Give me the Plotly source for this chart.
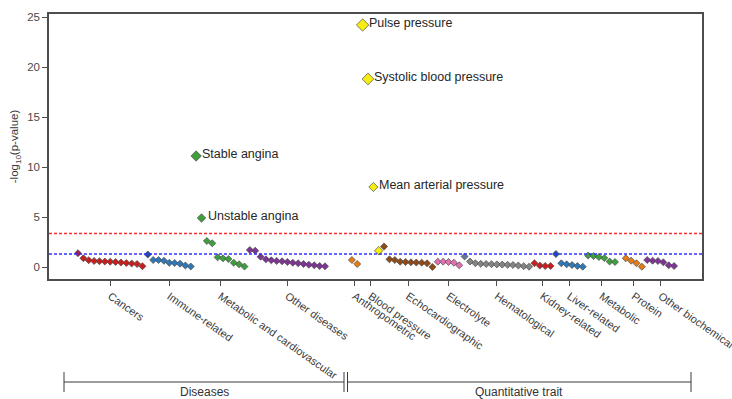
import plotly.graph_objects as go

# ---------------- data ----------------
groups = ["Cancers", "Immune-related", "Metabolic and cardiovascular", "Other diseases",
          "Anthropometric", "Blood pressure", "Echocardiographic", "Electrolyte",
          "Hematological", "Kidney-related", "Liver-related", "Metabolic", "Protein",
          "Other biochemical"]

cancers = [1.38, 0.88, 0.68, 0.6, 0.58, 0.55, 0.53, 0.5, 0.45, 0.4, 0.35, 0.3, 0.08]
immune = [1.25, 0.7, 0.7, 0.62, 0.42, 0.4, 0.33, 0.15, 0.05]
metab_cv = [11.1, 4.9, 2.6, 2.37, 0.97, 0.87, 0.8, 0.43, 0.27, 0.05]
other_dis = [1.7, 1.63, 1.03, 0.77, 0.67, 0.6, 0.57, 0.5, 0.43, 0.37, 0.3, 0.23, 0.17, 0.1, 0.07]
anthro = [0.7, 0.3]
blood_pressure = [24.2, 18.8, 8.0, 1.63]
echo = [2.05, 0.77, 0.7, 0.53, 0.5, 0.47, 0.45, 0.43, 0.37, 0.0]
electrolyte = [0.53, 0.53, 0.5, 0.43, 0.17]
hema = [1.05, 0.55, 0.38, 0.32, 0.3, 0.28, 0.26, 0.24, 0.22, 0.2, 0.15, 0.08, 0.03]
kidney = [0.38, 0.14, 0.1, 0.1]
liver = [1.3, 0.37, 0.27, 0.2, 0.1, 0.03]
metabolic = [1.15, 1.1, 1.0, 0.9, 0.55, 0.5]
protein = [0.87, 0.63, 0.37, 0.03]
other_bio = [0.7, 0.63, 0.6, 0.47, 0.17, 0.1]

series = [cancers, immune, metab_cv, other_dis, anthro, blood_pressure, echo, electrolyte,
          hema, kidney, liver, metabolic, protein, other_bio]

# empty slots left before each group on the x axis
gaps_before = [0, 0, 0, 0, 4, 0, 0, 0, 0, 0, 0, 0, 1, 0]

labelled = {  # (group, rank in group) -> label
    (2, 0): "Stable angina",
    (2, 1): "Unstable angina",
    (5, 0): "Pulse pressure",
    (5, 1): "Systolic blood pressure",
    (5, 2): "Mean arterial pressure",
}

bonferroni = 3.35
nominal = 1.30

categories = ["Diseases", "Quantitative trait"]

# ---------------- style ----------------
colors = ["#c81e1e", "#2f78b5", "#3f9f3f", "#7e3594", "#e87a12", "#f5ee10", "#8f4a16",
          "#e070b0", "#858585", "#c81e1e", "#2f78b5", "#3f9f3f", "#e87a12", "#7e3594"]
lead_colors = {0: "#a01c50", 1: "#1f4ea8", 8: "#66779a", 10: "#1f4ea8"}
big_sizes = {(2, 0): 8, (2, 1): 6.5, (5, 0): 9.5, (5, 1): 9, (5, 2): 7, (5, 3): 6.5}

FONT = "Liberation Sans, Arial"

fig = go.Figure()

pos = 0
tickvals = []
for gi, vals in enumerate(series):
    pos += gaps_before[gi]
    xs = list(range(pos, pos + len(vals)))
    cols = [colors[gi]] * len(vals)
    if gi in lead_colors:
        cols[0] = lead_colors[gi]
    sizes = [big_sizes.get((gi, k), 5.4) for k in range(len(vals))]
    fig.add_trace(go.Scatter(
        x=xs, y=vals, mode="markers", name=groups[gi], showlegend=False,
        marker=dict(symbol="diamond", size=sizes, color=cols, opacity=1,
                    line=dict(color="#4a4a4a", width=0.7)),
    ))
    tickvals.append((xs[0] + xs[-1]) / 2)
    for k, v in enumerate(vals):
        if (gi, k) in labelled:
            fig.add_annotation(x=xs[k], y=v, text=labelled[(gi, k)], showarrow=False,
                               xanchor="left", yanchor="middle", xshift=4, yshift=2,
                               font=dict(family=FONT, size=12.5, color="#262626"))
    pos += len(vals)

# threshold lines
fig.add_hline(y=bonferroni, line=dict(color="#ff2a2a", width=1.5, dash="3px,2px"))
fig.add_hline(y=nominal, line=dict(color="#3030ff", width=1.5, dash="3px,2px"))

axis_line = "#4d4d4d"
fig.update_xaxes(range=[-5.4, 116.2], tickvals=tickvals, ticktext=groups, tickangle=35,
                 automargin=False, ticklabeloverflow="allow",
                 showgrid=False, zeroline=False, showline=True, linecolor=axis_line,
                 linewidth=1.5, mirror=True, ticks="outside", ticklen=5, tickcolor=axis_line,
                 tickfont=dict(family=FONT, size=11, color="#3a3a3a"))
fig.update_yaxes(range=[-1.2, 25.3], tickvals=[0, 5, 10, 15, 20, 25],
                 automargin=False,
                 showgrid=False, zeroline=False, showline=True, linecolor=axis_line,
                 linewidth=1.5, mirror=True, ticks="outside", ticklen=5, tickcolor=axis_line,
                 tickfont=dict(family=FONT, size=11.5, color="#4a4a4a"),
                 title=dict(text="-log<sub>10</sub>(p-value)", standoff=6,
                            font=dict(family=FONT, size=11.5, color="#3a3a3a")))

# category brackets (paper coordinates below the plot)
W, H = 732, 399
L, R, T, B = 49, 30, 14, 120
pw, ph = W - L - R, H - T - B

def px(x):
    return (x - L) / pw

def py(y):
    return (H - B - y) / ph

bracket_color = "#3a3a3a"
spans = [(64, 344), (347.5, 691)]
for (x0, x1), name in zip(spans, categories):
    fig.add_shape(type="line", xref="paper", yref="paper", x0=px(x0), x1=px(x1),
                  y0=py(382), y1=py(382), line=dict(color=bracket_color, width=1))
    for xe in (x0, x1):
        fig.add_shape(type="line", xref="paper", yref="paper", x0=px(xe), x1=px(xe),
                      y0=py(372), y1=py(392), line=dict(color=bracket_color, width=1))
    fig.add_annotation(xref="paper", yref="paper", x=px((x0 + x1) / 2), y=py(392),
                       text=name, showarrow=False, xanchor="center", yanchor="middle",
                       font=dict(family=FONT, size=12, color="#333333"))

fig.update_layout(width=W, height=H, margin=dict(l=L, r=R, t=T, b=B, autoexpand=False),
                  plot_bgcolor="white", paper_bgcolor="white")

fig.write_html("out.html", config={"displayModeBar": False},
               post_script="document.body.style.margin='0';document.body.style.overflow='hidden';")
